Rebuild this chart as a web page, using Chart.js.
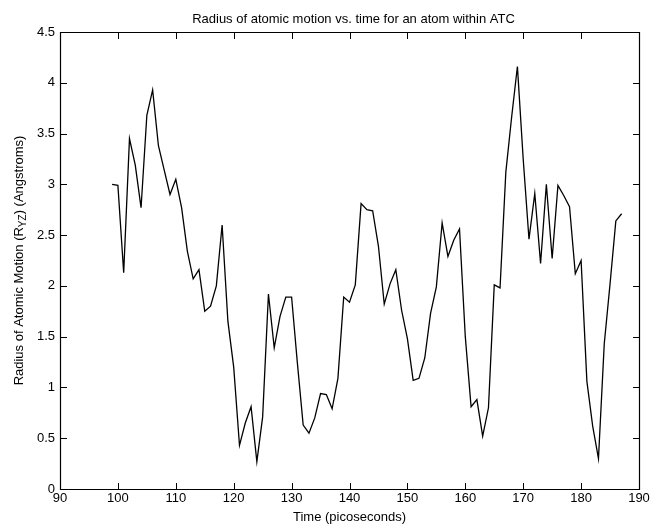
<!DOCTYPE html>
<html>
<head>
<meta charset="utf-8">
<script src="https://cdn.jsdelivr.net/npm/chart.js@4/dist/chart.umd.min.js"></script>
<style>
  html, body { margin: 0; padding: 0; background: #fff; }
  #wrap { width: 652px; height: 527px; }
</style>
</head>
<body>
<div id="wrap"><canvas id="radiusChart" width="652" height="527"></canvas></div>
<script>
// タイトル・軸ラベル
const chartTitle = "Radius of atomic motion vs. time for an atom within ATC";
const xLabel = "Time (picoseconds)";
const yLabelParts = ["Radius of Atomic Motion (R", "YZ", ") (Angstroms)"];

// 時間 (ps)
const times = [
  99, 100, 101, 102, 103, 104, 105, 106, 107, 108, 109,
  110, 111, 112, 113, 114, 115, 116, 117, 118, 119,
  120, 121, 122, 123, 124, 125, 126, 127, 128, 129,
  130, 131, 132, 133, 134, 135, 136, 137, 138, 139,
  140, 141, 142, 143, 144, 145, 146, 147, 148, 149,
  150, 151, 152, 153, 154, 155, 156, 157, 158, 159,
  160, 161, 162, 163, 164, 165, 166, 167, 168, 169,
  170, 171, 172, 173, 174, 175, 176, 177, 178, 179,
  180, 181, 182, 183, 184, 185, 186, 187
];

// 半径 R_YZ (Angstroms)
const radius = [
  3.00, 2.99, 2.13, 3.45, 3.19, 2.77, 3.68, 3.93, 3.38, 3.14, 2.90,
  3.05, 2.77, 2.34, 2.07, 2.16, 1.75, 1.80, 2.00, 2.60, 1.65,
  1.20, 0.43, 0.65, 0.81, 0.27, 0.71, 1.92, 1.39, 1.70, 1.89,
  1.89, 1.24, 0.63, 0.55, 0.70, 0.94, 0.93, 0.79, 1.09, 1.89,
  1.84, 2.01, 2.81, 2.75, 2.74, 2.39, 1.82, 2.02, 2.16, 1.76,
  1.48, 1.07, 1.09, 1.29, 1.73, 1.99, 2.62, 2.29, 2.45, 2.56,
  1.50, 0.81, 0.88, 0.52, 0.80, 2.01, 1.98, 3.12, 3.66, 4.16,
  3.25, 2.46, 2.91, 2.22, 3.00, 2.27, 2.99, 2.89, 2.78, 2.12,
  2.25, 1.06, 0.62, 0.30, 1.43, 2.02, 2.64, 2.71
];

// 目盛りの値
const xTicks = [90, 100, 110, 120, 130, 140, 150, 160, 170, 180, 190];
const yTicks = [0, 0.5, 1, 1.5, 2, 2.5, 3, 3.5, 4, 4.5];

const FONT = "'Liberation Sans', Arial, Helvetica, sans-serif";

// 枠と内向きの目盛り、タイトル、縦軸ラベル（下付き文字あり）
const matlabFrame = {
  id: 'matlabFrame',
  afterDraw(chart) {
    const { ctx, chartArea: a, scales } = chart;
    const tick = 6;
    const L = Math.round(a.left), R = Math.round(a.right);
    const T = Math.round(a.top), B = Math.round(a.bottom);
    ctx.save();
    ctx.strokeStyle = '#000';
    ctx.lineWidth = 1.2;
    ctx.beginPath();
    ctx.rect(L + 0.5, T + 0.5, R - L, B - T);
    ctx.stroke();

    // 内向きの目盛り
    ctx.fillStyle = '#000';
    xTicks.forEach(v => {
      const px = Math.round(scales.x.getPixelForValue(v));
      ctx.fillRect(px, B - tick, 1, tick);
      ctx.fillRect(px, T + 1, 1, tick);
    });
    yTicks.forEach(v => {
      const py = Math.round(scales.y.getPixelForValue(v));
      ctx.fillRect(L + 1, py, tick, 1);
      ctx.fillRect(R - tick, py, tick, 1);
    });

    // タイトル
    ctx.font = '13px ' + FONT;
    ctx.textAlign = 'center';
    ctx.textBaseline = 'alphabetic';
    ctx.fillText(chartTitle, (a.left + a.right) / 2 + 4, 23);

    // 縦軸ラベル
    const big = '13px ' + FONT, small = '10px ' + FONT;
    ctx.font = big;
    const w0 = ctx.measureText(yLabelParts[0]).width;
    const w2 = ctx.measureText(yLabelParts[2]).width;
    ctx.font = small;
    const w1 = ctx.measureText(yLabelParts[1]).width;
    const total = w0 + w1 + w2;
    ctx.translate(23, (a.top + a.bottom) / 2);
    ctx.rotate(-Math.PI / 2);
    ctx.textAlign = 'left';
    let x = -total / 2;
    ctx.font = big;
    ctx.fillText(yLabelParts[0], x, 0);
    x += w0;
    ctx.font = small;
    ctx.fillText(yLabelParts[1], x, 3);
    x += w1;
    ctx.font = big;
    ctx.fillText(yLabelParts[2], x, 0);
    ctx.restore();
  }
};

const ctx = document.getElementById('radiusChart').getContext('2d');
new Chart(ctx, {
  type: 'line',
  data: {
    datasets: [{
      data: times.map((t, i) => ({ x: t, y: radius[i] })),
      borderColor: '#000',
      borderWidth: 1.3,
      pointRadius: 0,
      tension: 0,
      fill: false
    }]
  },
  options: {
    responsive: false,
    animation: false,
    layout: { padding: { left: 0, right: 13, top: 32, bottom: 0 } },
    plugins: {
      legend: { display: false },
      tooltip: { enabled: false },
      title: { display: false }
    },
    scales: {
      x: {
        type: 'linear',
        min: xTicks[0], max: xTicks[xTicks.length - 1],
        afterBuildTicks(s) { s.ticks = xTicks.map(v => ({ value: v })); },
        ticks: { color: '#000', font: { family: FONT, size: 13 }, padding: 2, maxRotation: 0 },
        grid: { display: false, drawTicks: false },
        border: { display: false },
        title: { display: true, text: xLabel, color: '#000', font: { family: FONT, size: 13 }, padding: { top: 0, bottom: 2 } },
        afterFit(s) { s.height = 38; }
      },
      y: {
        min: yTicks[0], max: yTicks[yTicks.length - 1],
        afterBuildTicks(s) { s.ticks = yTicks.map(v => ({ value: v })); },
        ticks: { color: '#000', font: { family: FONT, size: 13 }, padding: 5,
                 callback: v => String(v) },
        grid: { display: false, drawTicks: false },
        border: { display: false },
        afterFit(s) { s.width = 60; }
      }
    }
  },
  plugins: [matlabFrame]
});
</script>
</body>
</html>
